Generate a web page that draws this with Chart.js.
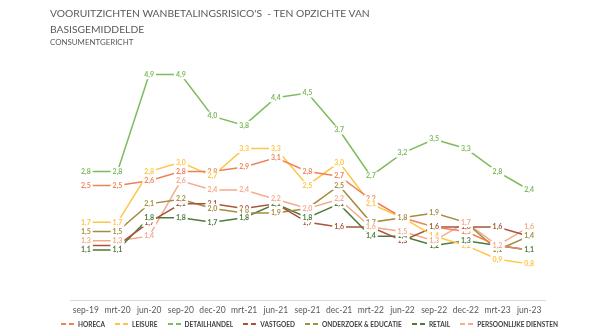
<!DOCTYPE html>
<html><head><meta charset="utf-8">
<script src="https://cdn.jsdelivr.net/npm/chart.js@4/dist/chart.umd.min.js"></script>
<style>
html,body{margin:0;padding:0;background:#fff;}
#wrap{position:relative;width:598px;height:336px;}
#t1{position:absolute;left:50px;top:5px;font-family:Lato,sans-serif;font-size:10.3px;color:#595959;line-height:16px;white-space:nowrap;}
#t2{position:absolute;left:50px;top:37px;font-family:Lato,sans-serif;font-size:7.9px;color:#595959;white-space:nowrap;}
canvas{position:absolute;left:0;top:0;}
#legend{position:absolute;left:61px;width:497px;top:319px;height:10px;display:flex;justify-content:space-between;align-items:center;font-family:Lato,sans-serif;font-size:6.5px;font-weight:bold;color:#404040;white-space:nowrap;}
#legend .it{display:flex;align-items:center;}
#legend .mk{display:inline-block;width:13px;height:1.5px;margin-right:4px;}
</style></head>
<body><div id="wrap">
<canvas id="c" width="598" height="336"></canvas>
<div id="t1">VOORUITZICHTEN WANBETALINGSRISICO'S&nbsp; - TEN OPZICHTE VAN<br>BASISGEMIDDELDE</div>
<div id="t2">CONSUMENTGERICHT</div>
<div id="legend"></div>
</div>
<script>
const categories = ['sep-19','mrt-20','jun-20','sep-20','dec-20','mrt-21','jun-21','sep-21','dec-21','mrt-22','jun-22','sep-22','dec-22','mrt-23','jun-23'];
const horeca       = [2.5,2.5,2.6,2.8,2.8,2.9,3.1,2.8,2.7,2.2,1.8,1.6,1.5,1.2,1.1];
const leisure      = [1.7,1.7,2.8,3.0,2.7,3.3,3.3,2.5,3.0,2.1,1.8,1.4,1.2,0.9,0.8];
const detailhandel = [2.8,2.8,4.9,4.9,4.0,3.8,4.4,4.5,3.7,2.7,3.2,3.5,3.3,2.8,2.4];
const vastgoed     = [1.2,1.2,1.7,2.1,2.1,2.0,2.1,1.7,1.6,1.6,1.3,1.6,1.6,1.6,1.4];
const onderzoek    = [1.5,1.5,2.1,2.2,2.0,1.9,1.9,2.0,2.5,1.7,1.8,1.9,1.7,1.1,1.4];
const retail       = [1.1,1.1,1.8,1.8,1.7,1.8,2.1,1.8,2.1,1.4,1.4,1.2,1.3,1.2,1.1];
const persoonlijk  = [1.3,1.3,1.4,2.6,2.4,2.4,2.2,2.0,2.2,1.6,1.5,1.3,1.7,1.2,1.6];
const seriesNames  = ['HORECA','LEISURE','DETAILHANDEL','VASTGOED','ONDERZOEK & EDUCATIE','RETAIL','PERSOONLIJKE DIENSTEN'];
const seriesData   = [horeca,leisure,detailhandel,vastgoed,onderzoek,retail,persoonlijk];
const colors = ['#EF8159','#FFC545','#7DBB5C','#A8563B','#A48C40','#4E7B3B','#F6AA8B'];

const labelPlugin = {
  id:'valueLabels',
  afterDatasetsDraw(chart){
    const ctx = chart.ctx;
    ctx.save();
    ctx.font = 'bold 7px Lato, sans-serif';
    ctx.textAlign='center'; ctx.textBaseline='middle';
    chart.data.datasets.forEach((ds,i)=>{
      const meta = chart.getDatasetMeta(i);
      meta.data.forEach((pt,j)=>{
        const txt = ds.data[j].toFixed(1).replace('.',',');
        const w = ctx.measureText(txt).width;
        ctx.fillStyle='#fff';
        ctx.fillRect(pt.x-w/2-2, pt.y-4.5, w+4, 9);
        ctx.fillStyle=ds.borderColor;
        ctx.fillText(txt, pt.x, pt.y);
      });
    });
    ctx.restore();
  }
};

const chart = new Chart(document.getElementById('c'),{
  type:'line',
  data:{labels:categories,
    datasets:seriesData.map((d,i)=>({label:seriesNames[i],data:d,borderColor:colors[i],backgroundColor:colors[i],borderWidth:1.5,pointRadius:0,tension:0,fill:false}))},
  options:{
    responsive:false,animation:false,
    layout:{padding:{left:70,right:53,top:70,bottom:17}},
    plugins:{title:{display:false},tooltip:{enabled:false},legend:{display:false}},
    scales:{
      x:{offset:true,grid:{display:false,drawTicks:false},border:{display:true,color:'#D9D9D9',width:1},
         ticks:{color:'#595959',font:{family:'Lato, sans-serif',size:8.5},padding:4,maxRotation:0,autoSkip:false}},
      y:{display:false,min:0,max:5}
    }
  },
  plugins:[labelPlugin]
});

const lg = document.getElementById('legend');
chart.data.datasets.forEach(ds=>{
  const it=document.createElement('span'); it.className='it';
  const mk=document.createElement('span'); mk.className='mk';
  const c=ds.borderColor;
  mk.style.background=`linear-gradient(to right, ${c} 0 5px, transparent 5px 8px, ${c} 8px 13px)`;
  const tx=document.createElement('span'); tx.textContent=ds.label;
  it.appendChild(mk); it.appendChild(tx); lg.appendChild(it);
});
</script>
</body></html>
